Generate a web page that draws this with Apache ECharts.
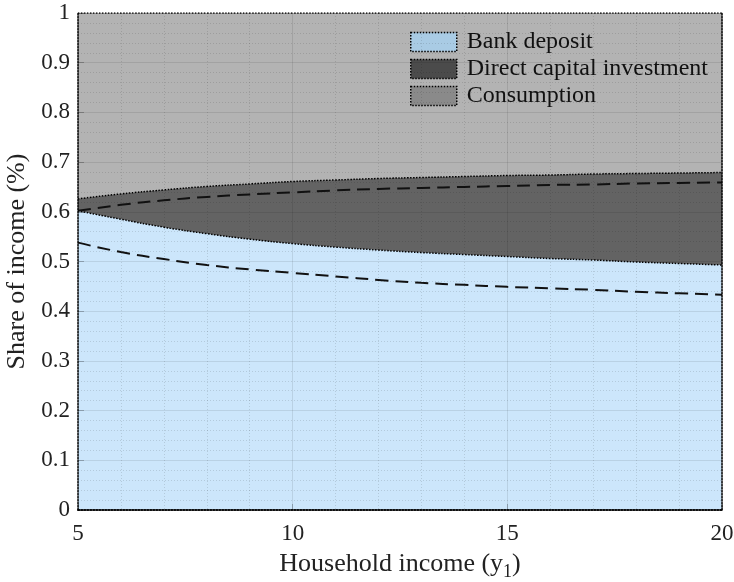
<!DOCTYPE html>
<html>
<head>
<meta charset="utf-8">
<script src="https://cdn.jsdelivr.net/npm/echarts@6/dist/echarts.min.js"></script>
<style>
html, body { margin: 0; padding: 0; background: #fff; }
#chart { width: 734px; height: 582px; }
</style>
</head>
<body>
<div id="chart"></div>
<script>
// household income y1
var income = [5, 6, 7, 8, 9, 10, 11, 12, 13, 14, 15, 16, 17, 18, 19, 20];
// upper edge of the bank deposit area
var depositTop = [0.602, 0.585, 0.569, 0.556, 0.545, 0.536, 0.529, 0.523, 0.518, 0.514, 0.510, 0.506, 0.503, 0.499, 0.496, 0.493];
// upper edge of the direct capital investment area
var investTop = [0.626, 0.636, 0.644, 0.651, 0.656, 0.661, 0.664, 0.667, 0.669, 0.671, 0.673, 0.674, 0.676, 0.677, 0.678, 0.679];
// consumption fills the rest up to 1
var consumptionTop = [1, 1, 1, 1, 1, 1, 1, 1, 1, 1, 1, 1, 1, 1, 1, 1];
// dashed reference lines
var dashUpper = [0.602, 0.614, 0.623, 0.630, 0.635, 0.639, 0.643, 0.646, 0.648, 0.650, 0.652, 0.654, 0.655, 0.657, 0.658, 0.659];
var dashLower = [0.538, 0.519, 0.505, 0.493, 0.484, 0.477, 0.470, 0.463, 0.457, 0.453, 0.449, 0.446, 0.443, 0.439, 0.436, 0.433];

var seriesNames = ['Bank deposit', 'Direct capital investment', 'Consumption'];

var FONT = "'Liberation Serif', 'Times New Roman', serif";

function pairs(ys) {
	var out = [];
	for (var i = 0; i < income.length; i++) {
		out.push([income[i], ys[i]]);
	}
	return out;
}

// fill = area colour, legendColor = the darker swatch shown in the legend
function areaSeries(name, ys, fill, legendColor) {
	return {
		name: name,
		type: 'line',
		data: pairs(ys),
		smooth: true,
		symbol: 'none',
		lineStyle: { color: '#000', width: 1.5, type: [1.5, 1.5] },
		areaStyle: { color: fill, opacity: 1, origin: 'start' },
		itemStyle: { color: legendColor },
		emphasis: { disabled: true },
		z: 1
	};
}

function dashSeries(ys) {
	return {
		type: 'line',
		data: pairs(ys),
		smooth: true,
		symbol: 'none',
		lineStyle: { color: '#111', width: 2, type: [13, 7] },
		emphasis: { disabled: true },
		z: 3
	};
}

var dotted = { color: '#000', width: 1.5, type: [1.5, 1.5] };

function legendItem(name, color) {
	return {
		name: name,
		itemStyle: { color: color, borderColor: '#000', borderWidth: 1.5, borderType: [1.5, 1.5] }
	};
}

var option = {
	animation: false,
	textStyle: { fontFamily: FONT },
	grid: { left: 78, right: 12, top: 13, bottom: 72, outerBoundsMode: 'none', containLabel: false },
	legend: {
		left: 410,
		top: 30,
		padding: 0,
		orient: 'vertical',
		icon: 'rect',
		itemWidth: 46,
		itemHeight: 19,
		itemGap: 3,
		textStyle: { fontFamily: FONT, fontSize: 24, color: '#111', padding: [0, 0, 0, 5] },
		data: [
			legendItem(seriesNames[0], '#a9cbe4'),
			legendItem(seriesNames[1], '#4b4b4b'),
			legendItem(seriesNames[2], '#8a8a8a')
		]
	},
	xAxis: [
		{
			type: 'value',
			min: 5, max: 20, interval: 5,
			name: 'Household income (y{sub|1})',
			nameLocation: 'middle',
			nameGap: 37,
			nameTextStyle: {
				fontFamily: FONT, fontSize: 26, color: '#222',
				rich: { sub: { fontFamily: FONT, fontSize: 18, color: '#222', verticalAlign: 'bottom', padding: [16, 0, 0, 0] } }
			},
			axisLine: { lineStyle: dotted },
			axisTick: { inside: true, length: 6, lineStyle: { color: 'rgba(0,0,0,0.25)' } },
			axisLabel: { fontFamily: FONT, fontSize: 23, color: '#222', margin: 12 },
			splitLine: { show: true, lineStyle: { color: 'rgba(0,0,0,0.09)', width: 1 } },
			minorTick: { show: false, splitNumber: 5 },
			minorSplitLine: { show: true, lineStyle: { color: 'rgba(0,0,0,0.12)', width: 1, type: [1, 2] } },
			z: 5
		},
		{
			type: 'value', position: 'top',
			min: 5, max: 20, interval: 5,
			axisLine: { show: true, lineStyle: dotted },
			axisTick: { show: false }, axisLabel: { show: false }, splitLine: { show: false },
			z: 5
		}
	],
	yAxis: [
		{
			type: 'value',
			min: 0, max: 1, interval: 0.1,
			name: 'Share of income (%)',
			nameLocation: 'middle',
			nameGap: 43,
			nameTextStyle: { fontFamily: FONT, fontSize: 26, color: '#222' },
			axisLine: { show: true, lineStyle: dotted },
			axisTick: { show: true, inside: true, length: 6, lineStyle: { color: 'rgba(0,0,0,0.25)' } },
			axisLabel: { fontFamily: FONT, fontSize: 23, color: '#222', margin: 8 },
			splitLine: { show: true, lineStyle: { color: 'rgba(0,0,0,0.09)', width: 1 } },
			minorTick: { show: false, splitNumber: 5 },
			minorSplitLine: { show: true, lineStyle: { color: 'rgba(0,0,0,0.12)', width: 1, type: [1, 2] } },
			z: 5
		},
		{
			type: 'value', position: 'right',
			min: 0, max: 1, interval: 0.1,
			axisLine: { show: true, lineStyle: dotted },
			axisTick: { show: false }, axisLabel: { show: false }, splitLine: { show: false },
			z: 5
		}
	],
	series: [
		areaSeries(seriesNames[2], consumptionTop, '#b3b3b3', '#8a8a8a'),
		areaSeries(seriesNames[1], investTop, '#636363', '#4b4b4b'),
		areaSeries(seriesNames[0], depositTop, '#cce6fb', '#a9cbe4'),
		dashSeries(dashUpper),
		dashSeries(dashLower)
	]
};

var chart = echarts.init(document.getElementById('chart'));
chart.setOption(option);
</script>
</body>
</html>
